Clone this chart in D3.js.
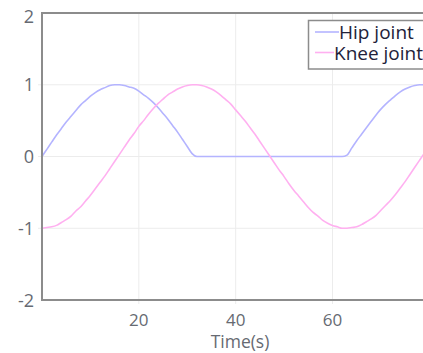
<!DOCTYPE html>
<html><head><meta charset="utf-8">
<script src="https://cdn.jsdelivr.net/npm/d3@7"></script>
<style>
html,body{margin:0;padding:0;background:#fff;overflow:hidden;}
svg{display:block;font-family:"Open Sans","Noto Sans",sans-serif;}
</style></head>
<body>
<svg id="chart" width="423" height="353"></svg>
<script>
// Time (s), sampled every second
const time = d3.range(0, 83);
// Hip joint angle (normalised)
const hipJoint = [0.00,0.10,0.20,0.30,0.39,0.48,0.56,0.64,0.72,0.78,0.84,0.89,0.93,0.96,0.99,1.00,1.00,0.99,0.97,0.95,
  0.91,0.86,0.81,0.75,0.68,0.60,0.52,0.43,0.34,0.24,0.14,0.04,0.00,0.00,0.00,0.00,0.00,0.00,0.00,0.00,
  0.00,0.00,0.00,0.00,0.00,0.00,0.00,0.00,0.00,0.00,0.00,0.00,0.00,0.00,0.00,0.00,0.00,0.00,0.00,0.00,
  0.00,0.00,0.00,0.02,0.12,0.22,0.31,0.40,0.49,0.58,0.66,0.73,0.79,0.85,0.90,0.94,0.97,0.99,1.00,1.00,
  0.99,0.97,0.94];
// Knee joint angle (normalised)
const kneeJoint = [-1.00,-0.99,-0.98,-0.96,-0.92,-0.88,-0.83,-0.76,-0.70,-0.62,-0.54,-0.45,-0.36,-0.27,-0.17,-0.07,0.03,0.13,0.23,0.32,
  0.42,0.50,0.59,0.67,0.74,0.80,0.86,0.90,0.94,0.97,0.99,1.00,1.00,0.99,0.97,0.94,0.90,0.85,0.79,0.73,
  0.65,0.57,0.49,0.40,0.31,0.21,0.11,0.01,-0.09,-0.19,-0.28,-0.38,-0.47,-0.55,-0.63,-0.71,-0.78,-0.83,-0.89,-0.93,
  -0.96,-0.98,-1.00,-1.00,-0.99,-0.98,-0.95,-0.91,-0.87,-0.82,-0.75,-0.68,-0.61,-0.53,-0.44,-0.35,-0.25,-0.15,-0.05,0.05,
  0.15,0.24,0.34];
const xTicks = [20, 40, 60];
const yTicks = [-2, -1, 0, 1, 2];
const seriesNames = ["Hip joint", "Knee joint"];
const seriesColors = ["#b4b4ff", "#ffb0f0"];
const xTitle = "Time(s)";

const svg = d3.select("#chart");
const L = 42, T = 13, B = 300, R = 439;
const x = d3.scaleLinear().domain([0, 82]).range([L, R]);
const y = d3.scaleLinear().domain([-2, 2]).range([B, T]);

// grid
const g = svg.append("g");
g.selectAll(".vg").data(xTicks).join("line")
  .attr("x1", d => x(d)).attr("x2", d => x(d)).attr("y1", T).attr("y2", B + 4)
  .attr("stroke", "#ececec").attr("stroke-width", 1);
g.selectAll(".hg").data(yTicks.filter(d => d > -2 && d < 2)).join("line")
  .attr("x1", L - 4).attr("x2", R).attr("y1", d => y(d)).attr("y2", d => y(d))
  .attr("stroke", "#ececec").attr("stroke-width", 1);

// lines
const series = [hipJoint, kneeJoint];
const line = d3.line().x((d, i) => x(time[i])).y(d => y(d)).curve(d3.curveMonotoneX);
series.forEach((s, k) => {
  svg.append("path").datum(s).attr("d", line)
    .attr("fill", "none").attr("stroke", seriesColors[k]).attr("stroke-width", 1.6);
});

// frame
svg.append("rect").attr("x", L).attr("y", T).attr("width", R - L).attr("height", B - T)
  .attr("fill", "none").attr("stroke", "#8c8c8c").attr("stroke-width", 2);

// tick labels
svg.selectAll(".xt").data(xTicks).join("text")
  .attr("x", d => x(d)).attr("y", 326).attr("text-anchor", "middle")
  .attr("font-size", 17).attr("fill", "#666a72").text(d => d);
svg.selectAll(".yt").data(yTicks).join("text")
  .attr("x", 34).attr("y", d => d === 2 ? 23 : y(d) + 6.5).attr("text-anchor", "end")
  .attr("font-size", 18).attr("fill", "#666a72").text(d => d);
svg.append("text").attr("x", 240).attr("y", 348).attr("text-anchor", "middle")
  .attr("font-size", 17.5).attr("fill", "#666a72").text(xTitle);

// legend
const lg = svg.append("g");
lg.append("rect").attr("x", 308.5).attr("y", 20.5).attr("width", 140).attr("height", 48.5)
  .attr("fill", "#fff").attr("stroke", "#8c8c8c").attr("stroke-width", 1.5);
const textX = [339, 334];
seriesNames.forEach((n, k) => {
  const yy = 32 + k * 20.5;
  lg.append("line").attr("x1", 315).attr("x2", textX[k]).attr("y1", yy).attr("y2", yy)
    .attr("stroke", seriesColors[k]).attr("stroke-width", 1.6);
  lg.append("text").attr("x", textX[k]).attr("y", yy + 7).attr("font-size", 19)
    .attr("fill", "#22223a").text(n);
});
</script>
</body></html>
